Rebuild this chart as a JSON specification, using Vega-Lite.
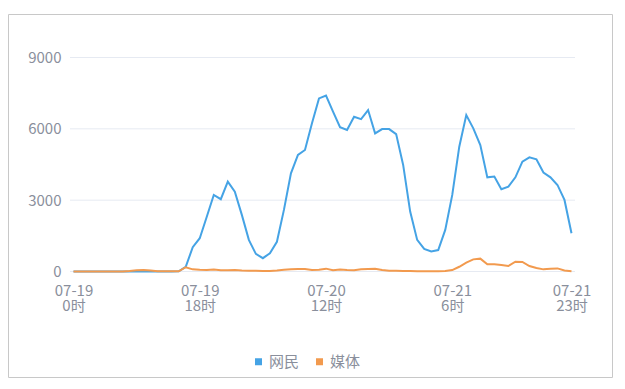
{
  "$schema": "https://vega.github.io/schema/vega-lite/v6.json",
  "width": 604,
  "height": 363,
  "autosize": {"type": "none"},
  "padding": {"left": 8, "top": 14, "right": 13, "bottom": 12},
  "background": "#ffffff",
  "config": {
    "view": {"stroke": "#c8c8c8", "strokeWidth": 1},
    "font": "Noto Sans CJK SC"
  },
  "datasets": {
    "grid": [{"g": 0}, {"g": 3000}, {"g": 6000}, {"g": 9000}],
    "series": [
      {"t": "2020-07-19T00:00", "网民": 0, "媒体": 0},
      {"t": "2020-07-19T01:00", "网民": 0, "媒体": 0},
      {"t": "2020-07-19T02:00", "网民": 0, "媒体": 0},
      {"t": "2020-07-19T03:00", "网民": 0, "媒体": 0},
      {"t": "2020-07-19T04:00", "网民": 0, "媒体": 0},
      {"t": "2020-07-19T05:00", "网民": 0, "媒体": 0},
      {"t": "2020-07-19T06:00", "网民": 0, "媒体": 0},
      {"t": "2020-07-19T07:00", "网民": 0, "媒体": 0},
      {"t": "2020-07-19T08:00", "网民": 0, "媒体": 20},
      {"t": "2020-07-19T09:00", "网民": 0, "媒体": 50},
      {"t": "2020-07-19T10:00", "网民": 0, "媒体": 60},
      {"t": "2020-07-19T11:00", "网民": 0, "媒体": 40},
      {"t": "2020-07-19T12:00", "网民": 0, "媒体": 10},
      {"t": "2020-07-19T13:00", "网民": 0, "媒体": 10},
      {"t": "2020-07-19T14:00", "网民": 5, "媒体": 10},
      {"t": "2020-07-19T15:00", "网民": 10, "媒体": 10},
      {"t": "2020-07-19T16:00", "网民": 200, "媒体": 180},
      {"t": "2020-07-19T17:00", "网民": 1020, "媒体": 90},
      {"t": "2020-07-19T18:00", "网民": 1400, "媒体": 70},
      {"t": "2020-07-19T19:00", "网民": 2300, "媒体": 60},
      {"t": "2020-07-19T20:00", "网民": 3220, "媒体": 80},
      {"t": "2020-07-19T21:00", "网民": 3040, "媒体": 50},
      {"t": "2020-07-19T22:00", "网民": 3780, "媒体": 50},
      {"t": "2020-07-19T23:00", "网民": 3360, "媒体": 60},
      {"t": "2020-07-20T00:00", "网民": 2380, "媒体": 40},
      {"t": "2020-07-20T01:00", "网民": 1330, "媒体": 30},
      {"t": "2020-07-20T02:00", "网民": 740, "媒体": 30},
      {"t": "2020-07-20T03:00", "网民": 560, "媒体": 20},
      {"t": "2020-07-20T04:00", "网民": 770, "媒体": 20},
      {"t": "2020-07-20T05:00", "网民": 1250, "媒体": 40},
      {"t": "2020-07-20T06:00", "网民": 2590, "媒体": 70},
      {"t": "2020-07-20T07:00", "网民": 4130, "媒体": 90},
      {"t": "2020-07-20T08:00", "网民": 4900, "媒体": 100},
      {"t": "2020-07-20T09:00", "网民": 5110, "媒体": 100},
      {"t": "2020-07-20T10:00", "网民": 6230, "媒体": 60},
      {"t": "2020-07-20T11:00", "网民": 7280, "媒体": 70},
      {"t": "2020-07-20T12:00", "网民": 7400, "媒体": 120},
      {"t": "2020-07-20T13:00", "网民": 6720, "媒体": 50},
      {"t": "2020-07-20T14:00", "网民": 6070, "媒体": 80},
      {"t": "2020-07-20T15:00", "网民": 5950, "媒体": 60},
      {"t": "2020-07-20T16:00", "网民": 6510, "媒体": 50},
      {"t": "2020-07-20T17:00", "网民": 6410, "媒体": 90},
      {"t": "2020-07-20T18:00", "网民": 6790, "媒体": 110},
      {"t": "2020-07-20T19:00", "网民": 5810, "媒体": 120},
      {"t": "2020-07-20T20:00", "网民": 5990, "媒体": 60},
      {"t": "2020-07-20T21:00", "网民": 5990, "媒体": 30},
      {"t": "2020-07-20T22:00", "网民": 5780, "媒体": 30},
      {"t": "2020-07-20T23:00", "网民": 4480, "媒体": 20},
      {"t": "2020-07-21T00:00", "网民": 2520, "媒体": 20},
      {"t": "2020-07-21T01:00", "网民": 1330, "媒体": 10},
      {"t": "2020-07-21T02:00", "网民": 950, "媒体": 10},
      {"t": "2020-07-21T03:00", "网民": 840, "媒体": 10},
      {"t": "2020-07-21T04:00", "网民": 900, "媒体": 10},
      {"t": "2020-07-21T05:00", "网民": 1750, "媒体": 20},
      {"t": "2020-07-21T06:00", "网民": 3220, "媒体": 60},
      {"t": "2020-07-21T07:00", "网民": 5250, "媒体": 200},
      {"t": "2020-07-21T08:00", "网民": 6580, "媒体": 370},
      {"t": "2020-07-21T09:00", "网民": 6020, "媒体": 510},
      {"t": "2020-07-21T10:00", "网民": 5320, "媒体": 540},
      {"t": "2020-07-21T11:00", "网民": 3960, "媒体": 300},
      {"t": "2020-07-21T12:00", "网民": 3990, "媒体": 300},
      {"t": "2020-07-21T13:00", "网民": 3460, "媒体": 270},
      {"t": "2020-07-21T14:00", "网民": 3570, "媒体": 230},
      {"t": "2020-07-21T15:00", "网民": 3960, "媒体": 410},
      {"t": "2020-07-21T16:00", "网民": 4620, "媒体": 400},
      {"t": "2020-07-21T17:00", "网民": 4800, "媒体": 230},
      {"t": "2020-07-21T18:00", "网民": 4720, "媒体": 150},
      {"t": "2020-07-21T19:00", "网民": 4160, "媒体": 90},
      {"t": "2020-07-21T20:00", "网民": 3960, "媒体": 120},
      {"t": "2020-07-21T21:00", "网民": 3640, "媒体": 130},
      {"t": "2020-07-21T22:00", "网民": 3010, "媒体": 40},
      {"t": "2020-07-21T23:00", "网民": 1610, "媒体": 10}
    ]
  },
  "layer": [
    {
      "data": {"name": "grid"},
      "mark": {"type": "rule", "color": "#e6eaf2", "strokeWidth": 1},
      "encoding": {
        "y": {
          "field": "g",
          "type": "quantitative",
          "axis": {
            "values": [0, 3000, 6000, 9000],
            "format": "d",
            "domain": false,
            "ticks": false,
            "grid": false,
            "offset": -62,
            "labelPadding": 9,
            "labelFontSize": 15,
            "labelFont": "Noto Sans CJK SC",
            "labelColor": "#8a8f9c",
            "title": null
          }
        },
        "x": {
          "datum": {"year": 2020, "month": 7, "date": 18, "hours": 23, "minutes": 30},
          "type": "temporal",
          "axis": {
            "values": [
              {"year": 2020, "month": 7, "date": 19, "hours": 0},
              {"year": 2020, "month": 7, "date": 19, "hours": 18},
              {"year": 2020, "month": 7, "date": 20, "hours": 12},
              {"year": 2020, "month": 7, "date": 21, "hours": 6},
              {"year": 2020, "month": 7, "date": 21, "hours": 23}
            ],
            "labelExpr": "[timeFormat(datum.value, '%m-%d'), timeFormat(datum.value, '%-H') + '时']",
            "domain": false,
            "ticks": false,
            "grid": false,
            "offset": -105.5,
            "labelPadding": 12,
            "labelFontSize": 15,
            "labelFont": "Noto Sans CJK SC",
            "labelColor": "#8a8f9c",
            "labelLineHeight": 15,
            "labelBaseline": "top",
            "labelOverlap": false,
            "labelBound": false,
            "labelFlush": false,
            "title": null
          }
        },
        "x2": {"datum": {"year": 2020, "month": 7, "date": 21, "hours": 23, "minutes": 30}}
      }
    },
    {
      "data": {"name": "series"},
      "transform": [{"fold": ["网民", "媒体"], "as": ["s", "v"]}],
      "mark": {"type": "line", "strokeWidth": 2, "interpolate": "linear"},
      "encoding": {
        "x": {
          "field": "t",
          "type": "temporal",
          "scale": {
            "domain": [
              {"year": 2020, "month": 7, "date": 18, "hours": 23, "minutes": 30},
              {"year": 2020, "month": 7, "date": 21, "hours": 23, "minutes": 30}
            ],
            "range": [62, 567]
          },
          "axis": {
            "values": [
              {"year": 2020, "month": 7, "date": 19, "hours": 0},
              {"year": 2020, "month": 7, "date": 19, "hours": 18},
              {"year": 2020, "month": 7, "date": 20, "hours": 12},
              {"year": 2020, "month": 7, "date": 21, "hours": 6},
              {"year": 2020, "month": 7, "date": 21, "hours": 23}
            ],
            "labelExpr": "[timeFormat(datum.value, '%m-%d'), timeFormat(datum.value, '%-H') + '时']",
            "domain": false,
            "ticks": false,
            "grid": false,
            "offset": -105.5,
            "labelPadding": 12,
            "labelFontSize": 15,
            "labelFont": "Noto Sans CJK SC",
            "labelColor": "#8a8f9c",
            "labelLineHeight": 15,
            "labelBaseline": "top",
            "labelOverlap": false,
            "labelBound": false,
            "labelFlush": false,
            "title": null
          }
        },
        "y": {
          "field": "v",
          "type": "quantitative",
          "scale": {"domain": [0, 9000], "range": [257.5, 43.5], "nice": false},
          "axis": {
            "values": [0, 3000, 6000, 9000],
            "format": "d",
            "domain": false,
            "ticks": false,
            "grid": false,
            "offset": -62,
            "labelPadding": 9,
            "labelFontSize": 15,
            "labelFont": "Noto Sans CJK SC",
            "labelColor": "#8a8f9c",
            "title": null
          }
        },
        "color": {
          "field": "s",
          "type": "nominal",
          "scale": {"domain": ["网民", "媒体"], "range": ["#45a3e5", "#f29a4e"]},
          "legend": {
            "orient": "none",
            "legendX": 243,
            "legendY": 340,
            "direction": "horizontal",
            "title": null,
            "symbolType": "square",
            "symbolSize": 49,
            "labelFontSize": 15,
            "labelFont": "Noto Sans CJK SC",
            "labelColor": "#8a8f9c",
            "columnPadding": 12,
            "labelOffset": 3,
            "encode": {
              "symbols": {
                "update": {
                  "fill": {"scale": "color", "field": "value"},
                  "stroke": {"value": "transparent"},
                  "strokeWidth": {"value": 0}
                }
              }
            }
          }
        }
      }
    }
  ]
}
